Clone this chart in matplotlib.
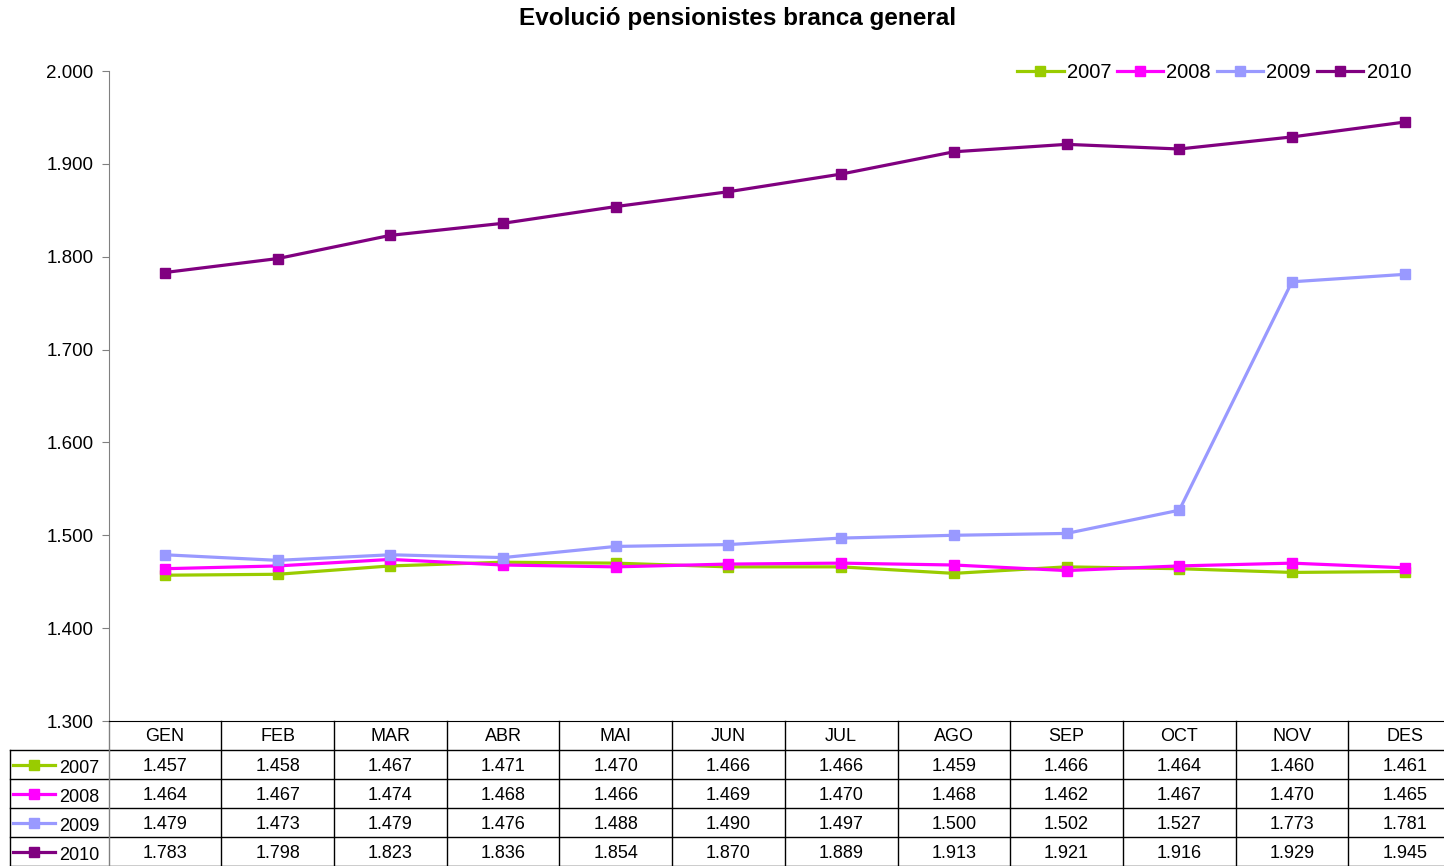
import matplotlib.pyplot as plt
from matplotlib.ticker import FuncFormatter, MultipleLocator

plt.rcParams['font.family'] = ['Liberation Sans', 'DejaVu Sans']

months = ['GEN', 'FEB', 'MAR', 'ABR', 'MAI', 'JUN', 'JUL', 'AGO', 'SEP', 'OCT', 'NOV', 'DES']
years = ['2007', '2008', '2009', '2010']
v2007 = [1457, 1458, 1467, 1471, 1470, 1466, 1466, 1459, 1466, 1464, 1460, 1461]
v2008 = [1464, 1467, 1474, 1468, 1466, 1469, 1470, 1468, 1462, 1467, 1470, 1465]
v2009 = [1479, 1473, 1479, 1476, 1488, 1490, 1497, 1500, 1502, 1527, 1773, 1781]
v2010 = [1783, 1798, 1823, 1836, 1854, 1870, 1889, 1913, 1921, 1916, 1929, 1945]
series = [v2007, v2008, v2009, v2010]
colors = ['#99CC00', '#FF00FF', '#9999FF', '#800080']


def fmt(v):
    return f"{v / 1000:.3f}"


fig = plt.figure(figsize=(14.44, 8.66), dpi=100)
W, H = 1444, 866
ax = fig.add_axes([108.6 / W, (H - 721) / H, (1461 - 108.6) / W, 650 / H])

x = list(range(len(months)))
for vals, c, lab in zip(series, colors, years):
    ax.plot(x, vals, color=c, lw=2.3, marker='s', ms=7, label=lab)

ax.set_xlim(-0.5, 11.5)
ax.set_ylim(1300, 2000)
ax.yaxis.set_major_locator(MultipleLocator(100))
ax.yaxis.set_major_formatter(FuncFormatter(lambda v, p: fmt(v)))
ax.tick_params(axis='y', labelsize=13.5, length=5, color='#808080', pad=6)
ax.set_xticks([])
for s in ['top', 'right']:
    ax.spines[s].set_visible(False)
ax.spines['left'].set_color('#808080')
ax.spines['bottom'].set_color('black')

fig.text(738 / W, 1 - 19 / H, 'Evolució pensionistes branca general',
         ha='center', va='center', fontsize=17.5, fontweight='bold')

ax.legend(loc='center right', bbox_to_anchor=(1411 / W, 1 - 73 / H),
          bbox_transform=fig.transFigure, ncol=4, frameon=False, fontsize=14.5,
          handlelength=2.3, handletextpad=0.15, columnspacing=0.3,
          borderaxespad=0, borderpad=0)

# data table under the plot
tr = ax.get_xaxis_transform()
rh = 29 / 650
dy = 1.8 / 650
xl = -0.5 - (108.6 - 10) / 112.7
xr = 12.5
kw = dict(transform=tr, clip_on=False, color='black', lw=1)

# horizontal lines
ax.plot([-0.5, xr], [-rh, -rh], **kw)
ax.plot([xl, -0.5], [-rh, -rh], **kw)
for i in range(2, 6):
    ax.plot([xl, xr], [-i * rh, -i * rh], **kw)
# vertical lines
ax.plot([xl, xl], [-rh, -5 * rh], **kw)
ax.plot([-0.5, -0.5], [0, -5 * rh], transform=tr, clip_on=False, color='#808080', lw=1)
for i in range(1, 12):
    ax.plot([i - 0.5, i - 0.5], [0, -5 * rh], **kw)

for i, m in enumerate(months):
    ax.text(i, -0.5 * rh - dy * 0.5, m, transform=tr, ha='center', va='center', fontsize=13)

for r, (vals, c, lab) in enumerate(zip(series, colors, years)):
    yc = -(r + 1.5) * rh
    ax.plot([-1.348, -0.976], [yc, yc], color=c, lw=2.3, transform=tr, clip_on=False)
    ax.plot([-1.162], [yc], color=c, marker='s', ms=7, transform=tr, clip_on=False)
    ax.text(-0.94, yc - 2 * dy, lab, transform=tr, ha='left', va='center', fontsize=13)
    for i, v in enumerate(vals):
        ax.text(i, yc - dy, fmt(v), transform=tr, ha='center', va='center', fontsize=13)

fig.savefig('out.png', dpi=100)
